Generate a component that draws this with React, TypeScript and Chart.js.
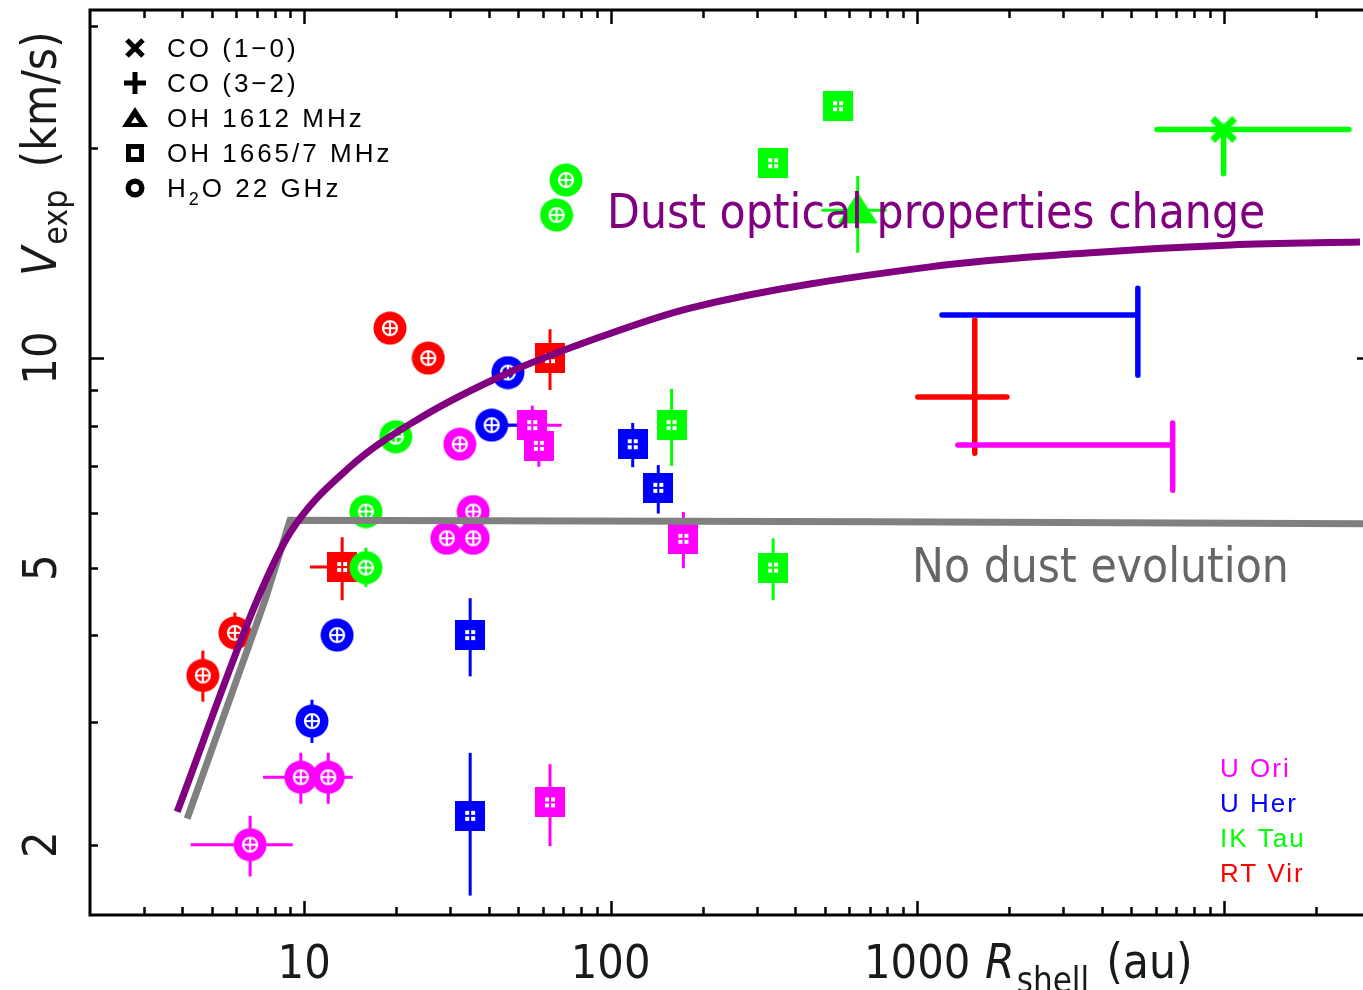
import { useEffect, useRef } from "react";
import { Chart, registerables } from "chart.js";

Chart.register(...registerables);

const WIDTH = 1363;
const HEIGHT = 990;

// Log–log axis ranges
const R_MIN = 2;
const R_MAX = 28500;
const V_MIN = 1.585;
const V_MAX = 31.62;

const X_TICK_LABELS = ["10", "100", "1000"];
const Y_TICK_LABELS = ["2", "5", "10"];

const STAR_NAMES = ["U Ori", "U Her", "IK Tau", "RT Vir"];
const STAR_COLORS = ["#ff00ff", "#0000ff", "#00ff00", "#ff0000"];

const TRACER_LABELS = ["CO (1\u22120)", "CO (3\u22122)", "OH 1612 MHz", "OH 1665/7 MHz", "H2O 22 GHz"];
const TRACER_SYMBOLS = ["x", "p", "t", "s", "c"];

type Err = [number, number] | null;

// U Ori
const uOriR = [6.66, 9.75, 11.98, 29.2, 35.6, 35.6, 32.2, 55.5, 58.3, 172.7, 63.4];
const uOriV = [2.0, 2.5, 2.5, 5.51, 5.51, 6.02, 7.52, 8.01, 7.48, 5.5, 2.3];
const uOriSym = ["c", "c", "c", "c", "c", "c", "c", "s", "s", "s", "s"];
const uOriRErr: Err[] = [[4.26, 9.17], [7.34, 11.98], [9.75, 14.4], null, null, null, null, [44.5, 69.2], null, null, null];
const uOriVErr: Err[] = [[1.8, 2.2], [2.29, 2.71], [2.29, 2.71], null, null, null, null, [7.5, 8.54], [6.98, 7.48], [4.99, 6.01], [1.99, 2.61]];

// U Her
const uHerR = [10.6, 12.8, 34.8, 34.8, 40.9, 46.2, 118, 143];
const uHerV = [3.01, 4.0, 4.0, 2.2, 8.01, 9.53, 7.52, 6.51];
const uHerSym = ["c", "c", "s", "s", "c", "c", "s", "s"];
const uHerRErr: Err[] = [null, null, null, null, [40.9, 50], null, null, null];
const uHerVErr: Err[] = [[2.8, 3.23], null, [3.49, 4.52], [1.69, 2.71], null, null, [6.97, 8.07], [5.98, 7.02]];

// IK Tau
const ikTauR = [15.9, 15.9, 19.9, 66.6, 71.5, 339, 552, 640, 158, 339, 10000];
const ikTauV = [5.0, 6.02, 7.71, 16.05, 18.02, 19.05, 23.0, 16.3, 8.01, 5.0, 21.3];
const ikTauSym = ["c", "c", "c", "c", "c", "s", "s", "t", "s", "s", "x"];
const ikTauRErr: Err[] = [null, null, null, null, null, null, null, [487, 795], null, null, [6060, 25650]];
const ikTauVErr: Err[] = [[4.69, 5.34], null, null, null, null, null, null, [14.17, 18.26], [7.0, 9.03], [4.49, 5.51], [18.4, 21.3]];

// RT Vir
const rtVirR = [4.67, 5.94, 13.3, 19.05, 25.4, 63.4];
const rtVirV = [3.5, 4.03, 5.01, 11.04, 10.0, 10.0];
const rtVirSym = ["c", "c", "s", "c", "c", "s"];
const rtVirRErr: Err[] = [null, null, [10.45, 16.15], null, null, null];
const rtVirVErr: Err[] = [[3.21, 3.8], [3.74, 4.31], [4.49, 5.53], null, null, [9.0, 11.0]];

// Dust-shell extent ranges (no symbol)
const rangeStar = [1, 3, 0];
const rangeR = [5250, 1542, 6820];
const rangeV = [11.53, 8.79, 7.5];
const rangeRErr: Err[] = [[1205, 5250], [1005, 1963], [1358, 6820]];
const rangeVErr: Err[] = [[9.45, 12.6], [7.3, 11.34], [6.46, 8.07]];

// Model curves
const dustChangeR = [3.85, 7.02, 8.99, 14.11, 23.3, 46.2, 92.3, 181.5, 1101, 3580, 10560, 27860];
const dustChangeV = [2.23, 4.49, 5.61, 6.98, 8.15, 9.52, 10.72, 11.8, 13.52, 14.16, 14.54, 14.68];
const noEvolR = [4.15, 7.45, 8.99, 757, 28500];
const noEvolV = [2.18, 4.49, 5.85, 5.82, 5.78];

const COND = 0.89;
const FONT = '"DejaVu Sans", sans-serif';
const LEGEND_FONT = '"Liberation Sans", Arial, sans-serif';
const INK = "#1a1a1a";

function makeMarker(kind: string, color: string): HTMLCanvasElement {
  const c = document.createElement("canvas");
  const g = c.getContext("2d")!;
  g.fillStyle = color;
  if (kind === "c") {
    c.width = 34; c.height = 34;
    const m = 17;
    g.fillStyle = color;
    g.beginPath(); g.arc(m, m, 16.5, 0, Math.PI * 2); g.fill();
    g.strokeStyle = "#ffffff"; g.lineWidth = 2.2;
    g.beginPath(); g.arc(m, m, 7, 0, Math.PI * 2); g.stroke();
    g.beginPath();
    g.moveTo(m - 7, m); g.lineTo(m + 7, m);
    g.moveTo(m, m - 7); g.lineTo(m, m + 7);
    g.stroke();
  } else if (kind === "s") {
    c.width = 30; c.height = 30;
    g.fillStyle = color; g.fillRect(0, 0, 30, 30);
    g.fillStyle = "#ffffff"; g.fillRect(10, 10, 10, 10);
    g.fillStyle = color; g.fillRect(14, 10, 2, 10); g.fillRect(10, 14, 10, 2);
  } else if (kind === "t") {
    c.width = 42; c.height = 36;
    g.fillStyle = color;
    g.beginPath(); g.moveTo(21, 0); g.lineTo(41, 31); g.lineTo(1, 31); g.closePath(); g.fill();
  } else if (kind === "x") {
    c.width = 32; c.height = 32;
    g.strokeStyle = color; g.lineWidth = 7;
    g.beginPath(); g.moveTo(5, 5); g.lineTo(27, 27); g.moveTo(27, 5); g.lineTo(5, 27); g.stroke();
  }
  return c;
}

function condText(ctx: CanvasRenderingContext2D, text: string, x: number, y: number, size: number,
  color: string, align: CanvasTextAlign = "left", italic = false): number {
  ctx.save();
  ctx.translate(x, y);
  ctx.scale(COND, 1);
  ctx.font = `${italic ? "italic " : ""}${size}px ${FONT}`;
  ctx.fillStyle = color;
  ctx.textAlign = align;
  ctx.textBaseline = "alphabetic";
  ctx.fillText(text, 0, 0);
  const w = ctx.measureText(text).width * COND;
  ctx.restore();
  return w;
}

function drawLegendSymbol(ctx: CanvasRenderingContext2D, kind: string, x: number, y: number) {
  ctx.save();
  ctx.fillStyle = "#000"; ctx.strokeStyle = "#000";
  if (kind === "x") {
    ctx.lineWidth = 5;
    ctx.beginPath(); ctx.moveTo(x - 8, y - 8); ctx.lineTo(x + 8, y + 8); ctx.moveTo(x + 8, y - 8); ctx.lineTo(x - 8, y + 8); ctx.stroke();
  } else if (kind === "p") {
    ctx.lineWidth = 5;
    ctx.beginPath(); ctx.moveTo(x - 11, y); ctx.lineTo(x + 11, y); ctx.moveTo(x, y - 11); ctx.lineTo(x, y + 11); ctx.stroke();
  } else if (kind === "t") {
    ctx.beginPath(); ctx.moveTo(x, y - 11); ctx.lineTo(x + 13, y + 9); ctx.lineTo(x - 13, y + 9); ctx.closePath(); ctx.fill();
    ctx.fillStyle = "#fff";
    ctx.beginPath(); ctx.moveTo(x, y - 1); ctx.lineTo(x + 4, y + 5); ctx.lineTo(x - 4, y + 5); ctx.closePath(); ctx.fill();
  } else if (kind === "s") {
    ctx.fillRect(x - 9, y - 9, 18, 18);
    ctx.fillStyle = "#fff"; ctx.fillRect(x - 4, y - 4, 8, 8);
  } else if (kind === "c") {
    ctx.beginPath(); ctx.arc(x, y, 9.5, 0, Math.PI * 2); ctx.fill();
    ctx.fillStyle = "#fff";
    ctx.beginPath(); ctx.arc(x, y, 4, 0, Math.PI * 2); ctx.fill();
  }
  ctx.restore();
}

const errorBarsPlugin = {
  id: "errorBars",
  beforeDatasetsDraw(chart: any) {
    const { ctx, chartArea, scales } = chart;
    const xs = scales.x, ys = scales.y;
    ctx.save();
    ctx.beginPath();
    ctx.rect(chartArea.left, chartArea.top, chartArea.right - chartArea.left, chartArea.bottom - chartArea.top);
    ctx.clip();
    chart.data.datasets.forEach((ds: any) => {
      if (!ds.errR) return;
      ds.data.forEach((p: any, i: number) => {
        const thick = ds.thick ? ds.thick[i] : false;
        ctx.strokeStyle = ds.barColor;
        ctx.lineWidth = thick ? 5.5 : 3;
        ctx.lineCap = thick ? "round" : "butt";
        const px = xs.getPixelForValue(p.x);
        const py = ys.getPixelForValue(p.y);
        const er = ds.errR[i];
        const ev = ds.errV[i];
        ctx.beginPath();
        if (er) { ctx.moveTo(xs.getPixelForValue(er[0]), py); ctx.lineTo(xs.getPixelForValue(er[1]), py); }
        if (ev) { ctx.moveTo(px, ys.getPixelForValue(ev[0])); ctx.lineTo(px, ys.getPixelForValue(ev[1])); }
        ctx.stroke();
      });
    });
    ctx.restore();
  },
};

const decorPlugin = {
  id: "decor",
  afterDraw(chart: any) {
    const { ctx, chartArea, scales } = chart;
    const xs = scales.x, ys = scales.y;
    const { left, right, top, bottom } = chartArea;
    ctx.save();

    // annotations
    condText(ctx, "Dust optical properties change", 607, 228, 48, "#800080");
    condText(ctx, "No dust evolution", 912, 582, 48, "#666666");

    // frame
    ctx.strokeStyle = "#000";
    ctx.lineWidth = 3;
    ctx.lineCap = "butt";
    ctx.beginPath();
    ctx.moveTo(right + 2, top); ctx.lineTo(left, top); ctx.lineTo(left, bottom); ctx.lineTo(right + 2, bottom);
    ctx.stroke();

    // ticks
    ctx.lineWidth = 2.5;
    const xTicks: number[] = [];
    for (let d = 1; d <= 10000; d *= 10) for (let k = 1; k <= 9; k++) xTicks.push(k * d);
    xTicks.forEach((v) => {
      if (v <= R_MIN || v >= R_MAX) return;
      const major = Math.abs(Math.log10(v) - Math.round(Math.log10(v))) < 1e-9;
      const len = major ? 14 : 8;
      const px = Math.round(xs.getPixelForValue(v)) + 0.5;
      ctx.beginPath();
      ctx.moveTo(px, bottom); ctx.lineTo(px, bottom - len);
      ctx.moveTo(px, top); ctx.lineTo(px, top + len);
      ctx.stroke();
    });
    const yTicks: number[] = [];
    for (let d = 1; d <= 10; d *= 10) for (let k = 1; k <= 9; k++) yTicks.push(k * d);
    yTicks.forEach((v) => {
      if (v <= V_MIN || v >= V_MAX) return;
      const major = Math.abs(Math.log10(v) - Math.round(Math.log10(v))) < 1e-9;
      const len = major ? 14 : 8;
      const py = Math.round(ys.getPixelForValue(v)) + 0.5;
      ctx.beginPath();
      ctx.moveTo(left, py); ctx.lineTo(left + len, py);
      if (major) { ctx.moveTo(right, py); ctx.lineTo(right - 6, py); }
      ctx.stroke();
    });

    // tick labels
    X_TICK_LABELS.forEach((t) => {
      condText(ctx, t, xs.getPixelForValue(Number(t)), 978, 47, INK, "center");
    });
    Y_TICK_LABELS.forEach((t) => {
      ctx.save();
      ctx.translate(56, ys.getPixelForValue(Number(t)));
      ctx.rotate(-Math.PI / 2);
      condText(ctx, t, 0, 0, 47, INK, "center");
      ctx.restore();
    });

    // axis titles
    let cx = 985;
    cx += condText(ctx, "R", cx, 978, 48, INK, "left", true) + 2;
    cx += condText(ctx, "shell", cx, 992, 35, INK) + 17;
    condText(ctx, "(au)", cx, 978, 48, INK);

    ctx.save();
    ctx.translate(56, 276);
    ctx.rotate(-Math.PI / 2);
    let ty = 0;
    ty += condText(ctx, "V", ty, 0, 48, INK, "left", true) + 2;
    ty += condText(ctx, "exp", ty, 11, 34, INK) + 22;
    condText(ctx, "(km/s)", ty, 0, 48, INK);
    ctx.restore();

    // tracer legend
    ctx.fillStyle = "#000";
    ctx.textBaseline = "alphabetic";
    ctx.textAlign = "left";
    TRACER_LABELS.forEach((label, i) => {
      const b = 57 + i * 35;
      drawLegendSymbol(ctx, TRACER_SYMBOLS[i], 135, b - 9);
      (ctx as any).letterSpacing = "3px";
      ctx.font = `26px ${LEGEND_FONT}`;
      if (label.startsWith("H2O")) {
        ctx.fillText("H", 167, b);
        let w = ctx.measureText("H").width;
        ctx.font = `18px ${LEGEND_FONT}`;
        ctx.fillText("2", 167 + w, b + 8);
        w += ctx.measureText("2").width;
        ctx.font = `26px ${LEGEND_FONT}`;
        ctx.fillText(label.slice(2), 167 + w, b);
      } else {
        ctx.fillText(label, 167, b);
      }
    });

    // star legend
    (ctx as any).letterSpacing = "2px";
    ctx.font = `26px ${LEGEND_FONT}`;
    STAR_NAMES.forEach((name, i) => {
      ctx.fillStyle = STAR_COLORS[i];
      ctx.fillText(name, 1220, 777 + i * 35);
    });
    (ctx as any).letterSpacing = "0px";
    ctx.restore();
  },
};

export default function App() {
  const ref = useRef<HTMLCanvasElement | null>(null);

  useEffect(() => {
    const canvas = ref.current;
    if (!canvas) return;

    const starR = [uOriR, uHerR, ikTauR, rtVirR];
    const starV = [uOriV, uHerV, ikTauV, rtVirV];
    const starSym = [uOriSym, uHerSym, ikTauSym, rtVirSym];
    const starRErr = [uOriRErr, uHerRErr, ikTauRErr, rtVirRErr];
    const starVErr = [uOriVErr, uHerVErr, ikTauVErr, rtVirVErr];

    const starSets: any[] = STAR_NAMES.map((name, s) => {
      const color = STAR_COLORS[s];
      const cache: Record<string, HTMLCanvasElement> = {};
      const style = (k: string) => (cache[k] = cache[k] || makeMarker(k, color));
      return {
        label: name,
        data: starR[s].map((r, i) => ({ x: r, y: starV[s][i] })),
        pointStyle: starSym[s].map((k) => style(k)),
        pointRadius: 16,
        borderWidth: 0,
        showLine: false,
        order: 2,
        errR: starRErr[s],
        errV: starVErr[s],
        thick: starSym[s].map((k) => k === "x"),
        barColor: color,
      };
    });

    const rangeSets: any[] = rangeStar.map((s, i) => ({
      label: STAR_NAMES[s] + " extent",
      data: [{ x: rangeR[i], y: rangeV[i] }],
      pointRadius: 0,
      showLine: false,
      order: 3,
      errR: [rangeRErr[i]],
      errV: [rangeVErr[i]],
      thick: [true],
      barColor: STAR_COLORS[s],
    }));

    const chart = new Chart(canvas, {
      type: "scatter",
      data: {
        datasets: [
          {
            label: "Dust optical properties change",
            data: dustChangeR.map((r, i) => ({ x: r, y: dustChangeV[i] })),
            showLine: true,
            borderColor: "#800080",
            borderWidth: 7,
            pointRadius: 0,
            cubicInterpolationMode: "monotone",
            order: 0,
          } as any,
          {
            label: "No dust evolution",
            data: noEvolR.map((r, i) => ({ x: r, y: noEvolV[i] })),
            showLine: true,
            borderColor: "#808080",
            borderWidth: 7,
            pointRadius: 0,
            tension: 0,
            order: 1,
          } as any,
          ...starSets,
          ...rangeSets,
        ],
      },
      options: {
        responsive: false,
        animation: false,
        devicePixelRatio: 1,
        layout: { autoPadding: false, padding: { left: 90, top: 10, right: 0, bottom: 75 } },
        scales: {
          x: { type: "logarithmic", min: R_MIN, max: R_MAX, display: false },
          y: { type: "logarithmic", min: V_MIN, max: V_MAX, display: false },
        },
        plugins: { legend: { display: false }, tooltip: { enabled: false } },
      },
      plugins: [errorBarsPlugin, decorPlugin],
    });

    return () => chart.destroy();
  }, []);

  return (
    <div style={{ position: "absolute", left: 0, top: 0, width: WIDTH, height: HEIGHT, background: "#fff" }}>
      <canvas ref={ref} width={WIDTH} height={HEIGHT} style={{ width: WIDTH, height: HEIGHT, display: "block" }} />
    </div>
  );
}
